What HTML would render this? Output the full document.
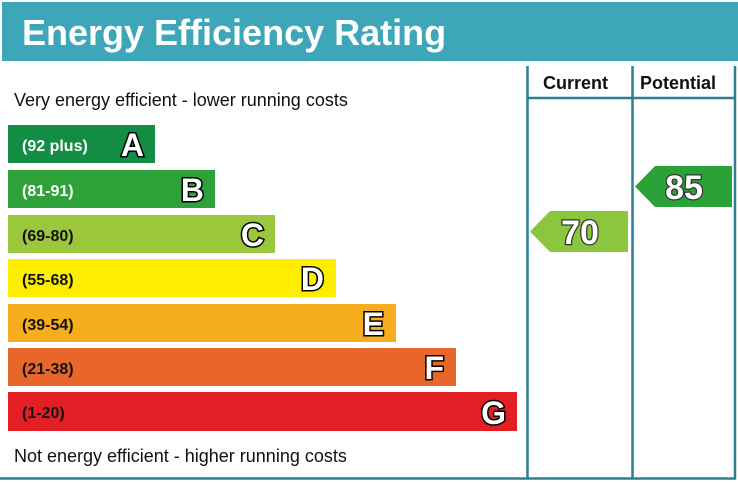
<!DOCTYPE html>
<html><head><style>body{margin:0;background:#fff}svg{display:block}</style></head><body>
<svg width="738" height="483" xmlns="http://www.w3.org/2000/svg" font-family="Liberation Sans, Arial, sans-serif">
<rect x="0" y="0" width="738" height="483" fill="#fff"/>
<rect x="2" y="2" width="736" height="59" fill="#3ea6b9"/>
<text x="22" y="45" font-size="36" font-weight="bold" fill="#fff">Energy Efficiency Rating</text>
<g stroke="#2a7f95" stroke-width="2.5" fill="none">
<line x1="527.5" y1="66" x2="527.5" y2="479"/>
<line x1="632.5" y1="66" x2="632.5" y2="479"/>
<line x1="735" y1="66" x2="735" y2="479"/>
<line x1="527" y1="98" x2="735" y2="98"/>
<line x1="0" y1="478.5" x2="736" y2="478.5"/>
</g>
<text x="543" y="89" font-size="18" font-weight="bold" fill="#111">Current</text>
<text x="640" y="89" font-size="18" font-weight="bold" fill="#111">Potential</text>
<text x="14" y="106" font-size="18" fill="#111">Very energy efficient - lower running costs</text>
<text x="14" y="462" font-size="18" fill="#111">Not energy efficient - higher running costs</text>
<g font-weight="bold">
<rect x="8" y="125" width="147" height="38" fill="#138c44"/>
<text x="22" y="151" font-size="16" fill="#fff">(92 plus)</text>
<rect x="8" y="170" width="207" height="38" fill="#2ea238"/>
<text x="22" y="196" font-size="16" fill="#fff">(81-91)</text>
<rect x="8" y="215" width="267" height="38" fill="#9bc73d"/>
<text x="22" y="241" font-size="16" fill="#111">(69-80)</text>
<rect x="8" y="259" width="328" height="38" fill="#ffed00"/>
<text x="22" y="285" font-size="16" fill="#111">(55-68)</text>
<rect x="8" y="304" width="388" height="38" fill="#f6ae1f"/>
<text x="22" y="330" font-size="16" fill="#111">(39-54)</text>
<rect x="8" y="348" width="448" height="38" fill="#e9662a"/>
<text x="22" y="374" font-size="16" fill="#111">(21-38)</text>
<rect x="8" y="392" width="509" height="39" fill="#e31e25"/>
<text x="22" y="418" font-size="16" fill="#111">(1-20)</text>
<g font-size="32" fill="#fff" stroke="#000" stroke-width="3" paint-order="stroke" text-anchor="end">
<text x="144" y="156">A</text>
<text x="204" y="201">B</text>
<text x="264" y="246">C</text>
<text x="324" y="290">D</text>
<text x="384" y="335">E</text>
<text x="444" y="379">F</text>
<text x="506" y="424">G</text>
</g>
<polygon points="530,231.5 550,211 628,211 628,252 550,252" fill="#8cc63f"/>
<polygon points="635,186.5 655,166 732,166 732,207 655,207" fill="#2aa237"/>
<g font-size="34" fill="#fff" stroke="#333" stroke-width="2.5" paint-order="stroke" text-anchor="middle">
<text x="580" y="244">70</text>
<text x="684" y="199">85</text>
</g>
</g>
</svg>
</body></html>
